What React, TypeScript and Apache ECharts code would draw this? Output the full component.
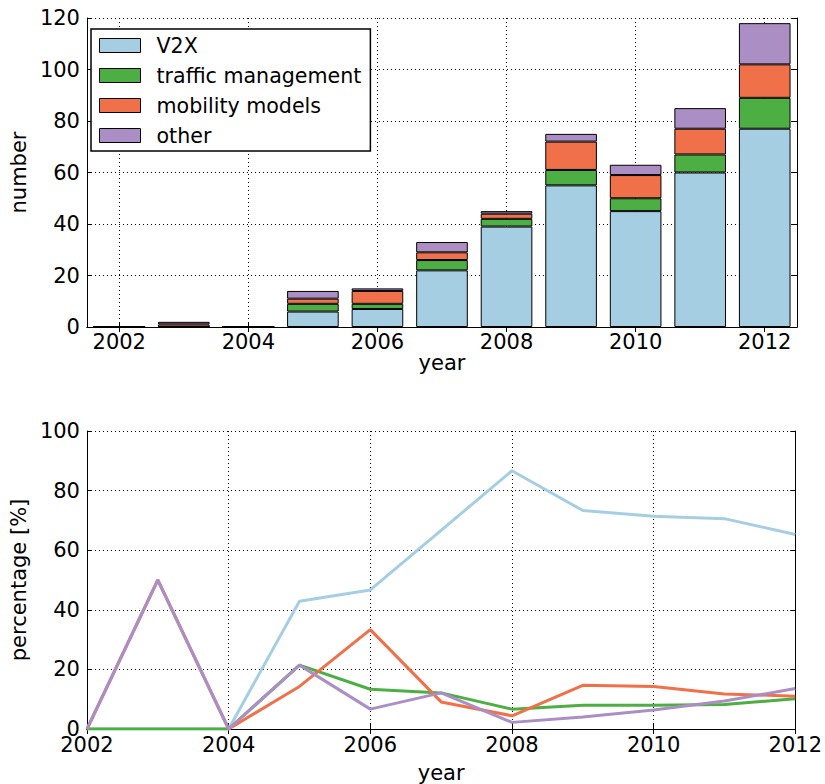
import React, { useEffect, useRef } from "react";
import * as echarts from "echarts";

const years = [2002, 2003, 2004, 2005, 2006, 2007, 2008, 2009, 2010, 2011, 2012];
const v2x = [0, 0, 0, 6, 7, 22, 39, 55, 45, 60, 77];
const traffic = [0, 0, 0, 3, 2, 4, 3, 6, 5, 7, 12];
const mobility = [0, 1, 0, 2, 5, 3, 2, 11, 9, 10, 13];
const other = [0, 1, 0, 3, 1, 4, 1, 3, 4, 8, 16];

const seriesNames = ["V2X", "traffic management", "mobility models", "other"];
const seriesColors = ["#a6cee3", "#4daf43", "#f0704a", "#ab8fc4"];
const countLists = [v2x, traffic, mobility, other];

const FONT = "DejaVu Sans";

export default function App() {
  const ref = useRef<HTMLDivElement>(null);
  useEffect(() => {
    if (!ref.current) return;
    const chart = echarts.init(ref.current, null, { renderer: "svg" });
    const totals = years.map((_, i) => countLists.reduce((s, arr) => s + arr[i], 0));
    const pct = countLists.map((arr) =>
      arr.map((v, i) => [years[i], totals[i] > 0 ? (v / totals[i]) * 100 : 0])
    );
    const dotted = { type: [1, 3] as any, color: "#000", width: 1 };
    const labelStyle = { fontFamily: FONT, fontSize: 21, color: "#000" };
    const cats = years.map(String);

    const option: any = {
      animation: false,
      textStyle: { fontFamily: FONT },
      legend: {
        left: 91,
        top: 29,
        orient: "vertical",
        icon: "rect",
        itemWidth: 41,
        itemHeight: 14,
        itemGap: 9,
        padding: [6, 9, 5, 8],
        borderColor: "#000",
        borderWidth: 1.5,
        borderRadius: 0,
        backgroundColor: "#fff",
        data: seriesNames,
        itemStyle: { borderColor: "#000", borderWidth: 1 },
        textStyle: { fontFamily: FONT, fontSize: 20.6, color: "#000", lineHeight: 20, padding: [0, 0, 0, 11] },
        selectedMode: false,
      },
      grid: [
        { left: 81, top: 18, width: 716, height: 309 },
        { left: 82, top: 431, width: 714, height: 307 },
      ],
      xAxis: [
        {
          type: "category",
          gridIndex: 0,
          data: cats,
          boundaryGap: true,
          name: "year",
          nameLocation: "middle",
          nameGap: 24,
          nameTextStyle: labelStyle,
          axisLine: { show: true, lineStyle: { color: "#000", width: 1 } },
          axisTick: { show: true, inside: true, alignWithLabel: true, interval: 1, length: 5, lineStyle: { color: "#000" } },
          axisLabel: { ...labelStyle, interval: 1, margin: 4 },
          splitLine: { show: true, interval: 1, alignWithLabel: true, lineStyle: dotted },
        },
        {
          type: "category",
          gridIndex: 0,
          data: cats,
          position: "top",
          boundaryGap: true,
          axisLine: { show: true, lineStyle: { color: "#000", width: 1 } },
          axisTick: { show: true, inside: true, alignWithLabel: true, interval: 1, length: 5, lineStyle: { color: "#000" } },
          axisLabel: { show: false },
          splitLine: { show: false },
        },
        {
          type: "value",
          gridIndex: 1,
          min: 2002,
          max: 2012,
          interval: 2,
          name: "year",
          nameLocation: "middle",
          nameGap: 33,
          nameTextStyle: labelStyle,
          axisLine: { show: true, lineStyle: { color: "#000", width: 1 } },
          axisTick: { show: true, inside: true, length: 5, lineStyle: { color: "#000" } },
          axisLabel: { ...labelStyle, margin: 5, formatter: (v: number) => String(v) },
          splitLine: { show: true, lineStyle: dotted },
        },
        {
          type: "value",
          gridIndex: 1,
          position: "top",
          min: 2002,
          max: 2012,
          interval: 2,
          axisLine: { show: true, lineStyle: { color: "#000", width: 1 } },
          axisTick: { show: true, inside: true, length: 5, lineStyle: { color: "#000" } },
          axisLabel: { show: false },
          splitLine: { show: false },
        },
      ],
      yAxis: [
        {
          type: "value",
          gridIndex: 0,
          min: 0,
          max: 120,
          interval: 20,
          name: "number",
          nameLocation: "middle",
          nameRotate: 90,
          nameGap: 50,
          nameTextStyle: labelStyle,
          axisLine: { show: true, lineStyle: { color: "#000", width: 1 } },
          axisTick: { show: true, inside: true, length: 5, lineStyle: { color: "#000" } },
          axisLabel: { ...labelStyle, margin: 7 },
          splitLine: { show: true, lineStyle: dotted },
        },
        {
          type: "value",
          gridIndex: 0,
          position: "right",
          min: 0,
          max: 120,
          interval: 20,
          axisLine: { show: true, lineStyle: { color: "#000", width: 1 } },
          axisTick: { show: true, inside: true, length: 5, lineStyle: { color: "#000" } },
          axisLabel: { show: false },
          splitLine: { show: false },
        },
        {
          type: "value",
          gridIndex: 1,
          min: 0,
          max: 100,
          interval: 20,
          name: "percentage [%]",
          nameLocation: "middle",
          nameRotate: 90,
          nameGap: 49,
          nameTextStyle: labelStyle,
          axisLine: { show: true, lineStyle: { color: "#000", width: 1 } },
          axisTick: { show: true, inside: true, length: 5, lineStyle: { color: "#000" } },
          axisLabel: { ...labelStyle, margin: 7 },
          splitLine: { show: true, lineStyle: dotted },
        },
        {
          type: "value",
          gridIndex: 1,
          position: "right",
          min: 0,
          max: 100,
          interval: 20,
          axisLine: { show: true, lineStyle: { color: "#000", width: 1 } },
          axisTick: { show: true, inside: true, length: 5, lineStyle: { color: "#000" } },
          axisLabel: { show: false },
          splitLine: { show: false },
        },
      ],
      series: [
        ...countLists.map((arr, k) => ({
          name: seriesNames[k],
          type: "bar",
          stack: "count",
          xAxisIndex: 0,
          yAxisIndex: 0,
          barWidth: "80%",
          data: arr,
          itemStyle: { color: seriesColors[k], borderColor: "#000", borderWidth: 1 },
          emphasis: { disabled: true },
        })),
        ...pct.map((data, k) => ({
          name: seriesNames[k],
          type: "line",
          xAxisIndex: 2,
          yAxisIndex: 2,
          data,
          showSymbol: false,
          symbol: "none",
          lineStyle: { color: seriesColors[k], width: 3 },
          itemStyle: { color: seriesColors[k] },
          emphasis: { disabled: true },
        })),
      ],
    };
    chart.setOption(option);
    return () => chart.dispose();
  }, []);
  return (
    <div
      ref={ref}
      style={{ position: "fixed", left: 0, top: 0, width: 825, height: 784, background: "#fff" }}
    />
  );
}
